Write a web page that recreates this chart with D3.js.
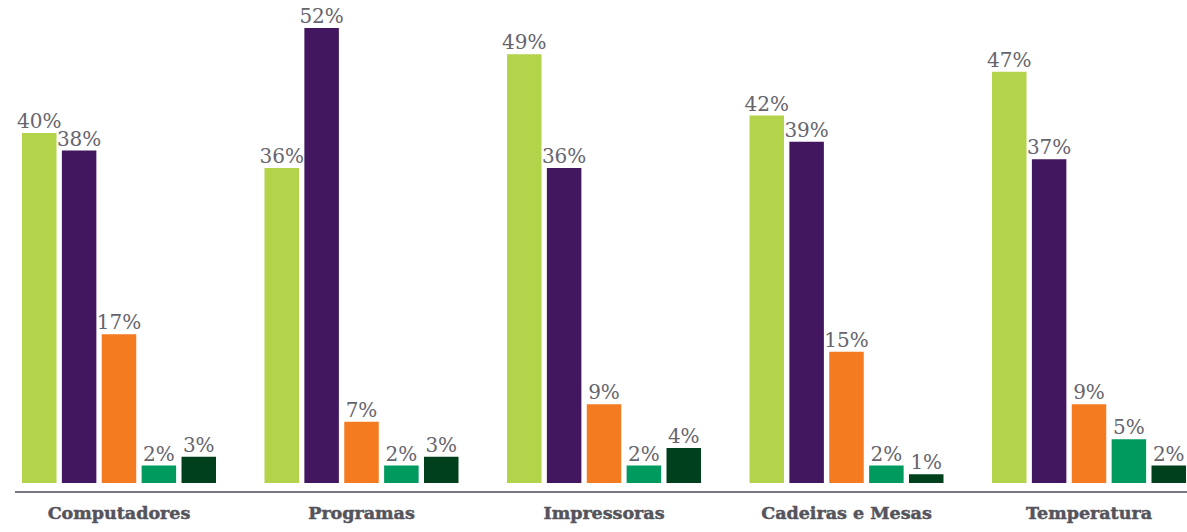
<!DOCTYPE html>
<html>
<head>
<meta charset="utf-8">
<script src="https://cdn.jsdelivr.net/npm/d3@7"></script>
<style>
  html, body { margin: 0; padding: 0; background: #ffffff; }
  svg { display: block; }
</style>
</head>
<body>
<svg id="chart" width="1187" height="532"></svg>
<script>
const categories = ["Computadores", "Programas", "Impressoras", "Cadeiras e Mesas", "Temperatura"];
const seriesNames = ["s1", "s2", "s3", "s4", "s5"];
const s1 = [40, 36, 49, 42, 47];
const s2 = [38, 52, 36, 39, 37];
const s3 = [17, 7, 9, 15, 9];
const s4 = [2, 2, 2, 2, 5];
const s5 = [3, 3, 4, 1, 2];
const seriesValues = [s1, s2, s3, s4, s5];
const colors = ["#b2d34a", "#42175f", "#f47b20", "#009a5e", "#00401c"];

const svg = d3.select("#chart");
const baseY = 483;

const x0 = d3.scaleBand().domain(categories).range([22, 1186]).paddingInner(0.2).paddingOuter(0);
const x1 = d3.scaleBand().domain(seriesNames).range([0, x0.bandwidth()]).paddingInner(0.135).paddingOuter(0);
const y = d3.scaleLinear().domain([0, 52]).range([baseY, 28]);
const color = d3.scaleOrdinal().domain(seriesNames).range(colors);

const data = [];
categories.forEach((c, ci) => {
  seriesNames.forEach((s, si) => {
    data.push({cat: c, ser: s, val: seriesValues[si][ci]});
  });
});

const g = svg.append("g");
g.selectAll("rect").data(data).join("rect")
  .attr("x", d => x0(d.cat) + x1(d.ser))
  .attr("y", d => y(d.val))
  .attr("width", x1.bandwidth())
  .attr("height", d => baseY - y(d.val))
  .attr("fill", d => color(d.ser));

g.selectAll("text.val").data(data).join("text")
  .attr("class", "val")
  .attr("x", d => x0(d.cat) + x1(d.ser) + x1.bandwidth() / 2)
  .attr("y", d => y(d.val) - 5)
  .attr("text-anchor", "middle")
  .attr("font-family", "DejaVu Serif")
  .attr("font-size", 20)
  .attr("fill", "#66656d")
  .text(d => d.val + "%");

// axis
const axis = d3.axisBottom(x0).tickSize(0).tickPadding(15);
const ax = svg.append("g").attr("transform", `translate(0,${492})`).call(axis);
ax.select(".domain").attr("d", "M15,0H1187").attr("stroke", "#77767e").attr("stroke-width", 2);
ax.selectAll(".tick text")
  .attr("font-family", "DejaVu Serif")
  .attr("font-weight", "bold")
  .attr("font-size", 17.5)
  .attr("fill", "#55545c")
  .attr("stroke", "#55545c")
  .attr("stroke-width", 0.5)
  .attr("dy", "0.71em");
</script>
</body>
</html>
